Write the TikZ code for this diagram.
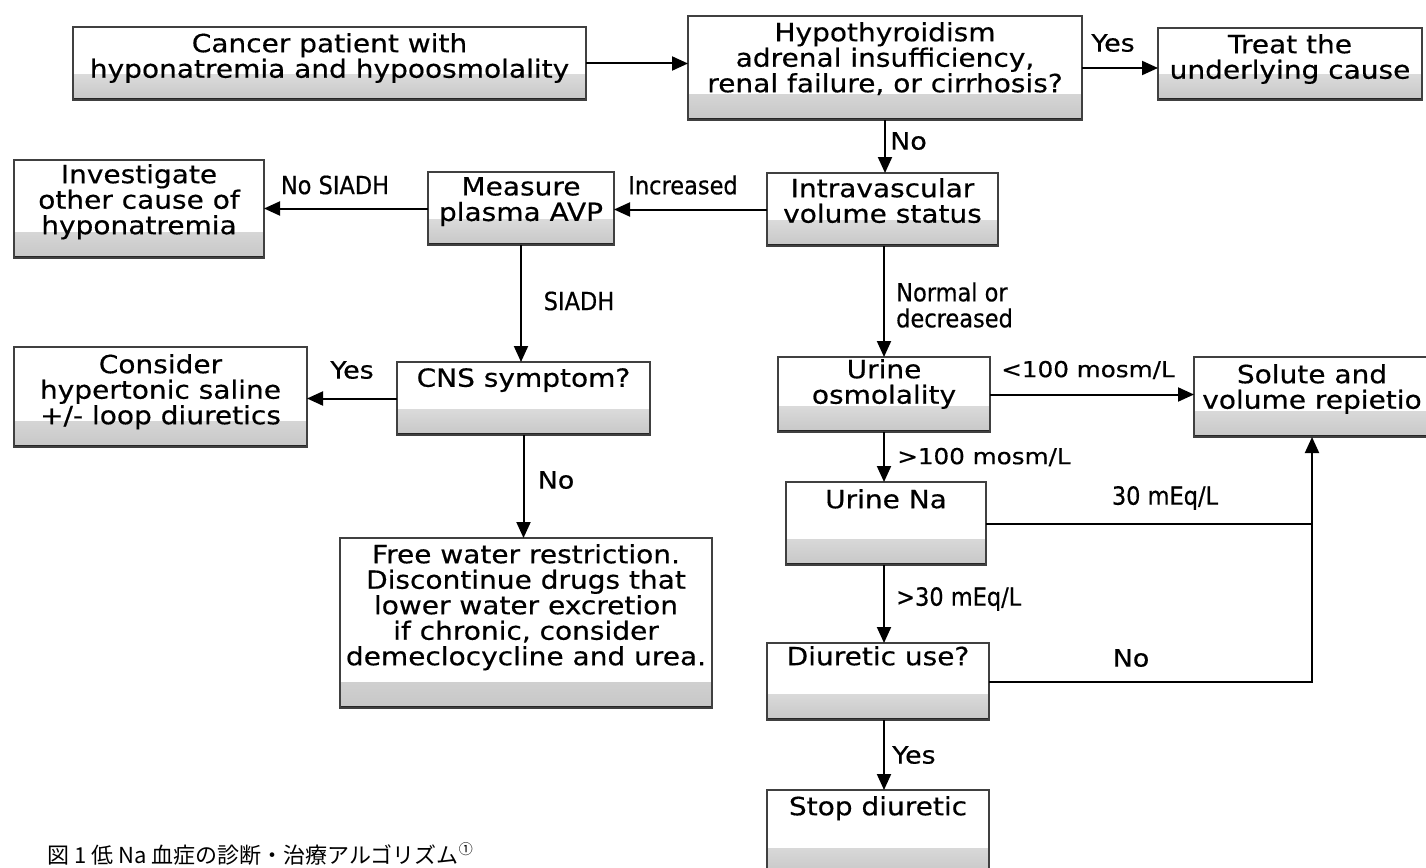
\documentclass[tikz,border=0pt]{standalone}
\usepackage{fontspec}
\setmainfont{DejaVu Sans}[FakeStretch=1.12,FakeBold=0.5]
\newfontfamily\lblfont{DejaVu Sans Condensed}[FakeBold=0.5]
\newfontfamily\cjkfont{Noto Sans CJK JP}
\usetikzlibrary{arrows.meta}
\tikzset{
  box/.style={draw=black!75, line width=1.1pt, inner sep=0pt, outer sep=0pt,
    path picture={
      \fill[top color=white, bottom color=black!22]
        (path picture bounding box.south west) rectangle ([yshift=26pt]path picture bounding box.south east);
      \draw[line width=4pt, black!85]
        (path picture bounding box.south west) -- (path picture bounding box.south east);
    }},
  txt/.style={align=center, font=\fontsize{25}{25.5}\selectfont, inner sep=0pt, anchor=north},
  lbl/.style={font=\fontsize{22}{24}\selectfont, inner sep=0pt},
  ylbl/.style={font=\fontsize{24}{24}\selectfont, inner sep=0pt},
  nlbl/.style={font=\lblfont\fontsize{25}{26}\selectfont, inner sep=0pt, align=left},
  arr/.style={line width=2pt, -{Triangle[length=16pt,width=14pt]}},
  ln/.style={line width=2pt},
}
\begin{document}
\begin{tikzpicture}[x=1pt,y=-1pt]
\useasboundingbox[fill=white] (0,0) rectangle (1426,867);

% boxes
\node[box, minimum width=513pt, minimum height=73pt] (cancer) at (329.5,63.5) {};
\node[box, minimum width=394pt, minimum height=104pt] (hypo) at (885,68) {};
\node[box, minimum width=264pt, minimum height=72pt] (treat) at (1290,64) {};
\node[box, minimum width=250pt, minimum height=98pt] (invest) at (139,209) {};
\node[box, minimum width=186pt, minimum height=73pt] (measure) at (521,208.5) {};
\node[box, minimum width=231pt, minimum height=73pt] (intra) at (882.5,209.5) {};
\node[box, minimum width=293pt, minimum height=100pt] (consider) at (160.5,397) {};
\node[box, minimum width=253pt, minimum height=73pt] (cns) at (523.5,398.5) {};
\node[box, minimum width=372pt, minimum height=170pt] (free) at (526,623) {};
\node[box, minimum width=212pt, minimum height=75pt] (uosm) at (884,394.5) {};
\node[box, minimum width=236pt, minimum height=80pt] (solute) at (1312,397) {};
\node[box, minimum width=200pt, minimum height=83pt] (una) at (886,523.5) {};
\node[box, minimum width=222pt, minimum height=77pt] (diur) at (878,681.5) {};
\node[box, minimum width=222pt, minimum height=84pt] (stop) at (878,832) {};

% box texts
\node[txt] (tcancer) at ([yshift=-6pt]cancer.north) {Cancer patient with\\hyponatremia and hypoosmolality};
\node[txt] (thypo) at ([yshift=-6pt]hypo.north) {Hypothyroidism\\adrenal insufficiency,\\renal failure, or cirrhosis?};
\node[txt] (ttreat) at ([yshift=-6pt]treat.north) {Treat the\\underlying cause};
\node[txt] (tinvest) at ([yshift=-4pt]invest.north) {Investigate\\other cause of\\hyponatremia};
\node[txt] (tmeasure) at ([yshift=-5pt]measure.north) {Measure\\plasma AVP};
\node[txt] (tintra) at ([yshift=-5pt]intra.north) {Intravascular\\volume status};
\node[txt] (tconsider) at ([yshift=-7pt]consider.north) {Consider\\hypertonic saline\\+/- loop diuretics};
\node[txt] (tcns) at ([yshift=-6pt]cns.north) {CNS symptom?};
\node[txt] (tfree) at ([yshift=-6pt]free.north) {Free water restriction.\\Discontinue drugs that\\lower water excretion\\if chronic, consider\\demeclocycline and urea.};
\node[txt] (tuosm) at ([yshift=-2pt]uosm.north) {Urine\\osmolality};
\node[txt] (tsolute) at ([yshift=-7pt]solute.north) {Solute and\\volume repietio};
\node[txt] (tuna) at ([yshift=-7pt]una.north) {Urine Na};
\node[txt] (tdiur) at ([yshift=-3pt]diur.north) {Diuretic use?};
\node[txt] (tstop) at ([yshift=-6pt]stop.north) {Stop diuretic};

% connectors
\draw[arr] (cancer.east) -- (cancer.east -| hypo.west);
\draw[arr] (hypo.east) -- (hypo.east -| treat.west);
\draw[arr] (hypo.south) -- (hypo.south |- intra.north);
\draw[arr] (intra.west) -- (intra.west -| measure.east);
\draw[arr] (measure.west) -- (measure.west -| invest.east);
\draw[arr] (measure.south) -- (measure.south |- cns.north);
\draw[arr] (cns.west) -- (cns.west -| consider.east);
\draw[arr] (cns.south) -- (cns.south |- free.north);
\draw[arr] (uosm.north |- intra.south) -- (uosm.north);
\draw[arr] (uosm.east) -- (uosm.east -| solute.west);
\draw[arr] (uosm.south) -- (uosm.south |- una.north);
\coordinate (j1) at (una.east -| solute.south);
\draw[ln] (una.east) -- (j1);
\draw[arr] (uosm.south |- una.south) -- (uosm.south |- diur.north);
\draw[arr] (diur.east) -| (solute.south);
\draw[arr] (uosm.south |- diur.south) -- (uosm.south |- stop.north);

% labels
\node[ylbl] (lyes1) at (1113,43) {Yes};
\node[ylbl, anchor=west] (lno1) at (890,141) {No};
\node[nlbl] (linc) at (683,185) {Increased};
\node[nlbl] (lnosiadh) at (335,185) {No SIADH};
\node[nlbl] (lsiadh) at (579,301) {SIADH};
\node[ylbl] (lyes2) at (352,370) {Yes};
\node[ylbl] (lno2) at (556,480) {No};
\node[nlbl, anchor=west] (lnorm) at (896,305) {Normal or\\decreased};
\node[lbl] (llt100) at (1088,370) {<100 mosm/L};
\node[lbl, anchor=west] (lgt100) at (897,457) {>100 mosm/L};
\node[nlbl] (l30) at (1165,498) {30 mEq/L};
\node[nlbl, anchor=west] (lgt30) at (896,599) {>30 mEq/L};
\node[ylbl] (lno3) at (1131,658) {No};
\node[ylbl, anchor=west] (lyes3) at (892,755) {Yes};

% caption
\node[anchor=north west, inner sep=0pt, font=\cjkfont\fontsize{22}{24}\selectfont] (cap) at (47,842) {図 1 低 Na 血症の診断・治療アルゴリズム\raisebox{0.45em}{\fontsize{14}{14}\selectfont ①}};
\end{tikzpicture}
\end{document}
